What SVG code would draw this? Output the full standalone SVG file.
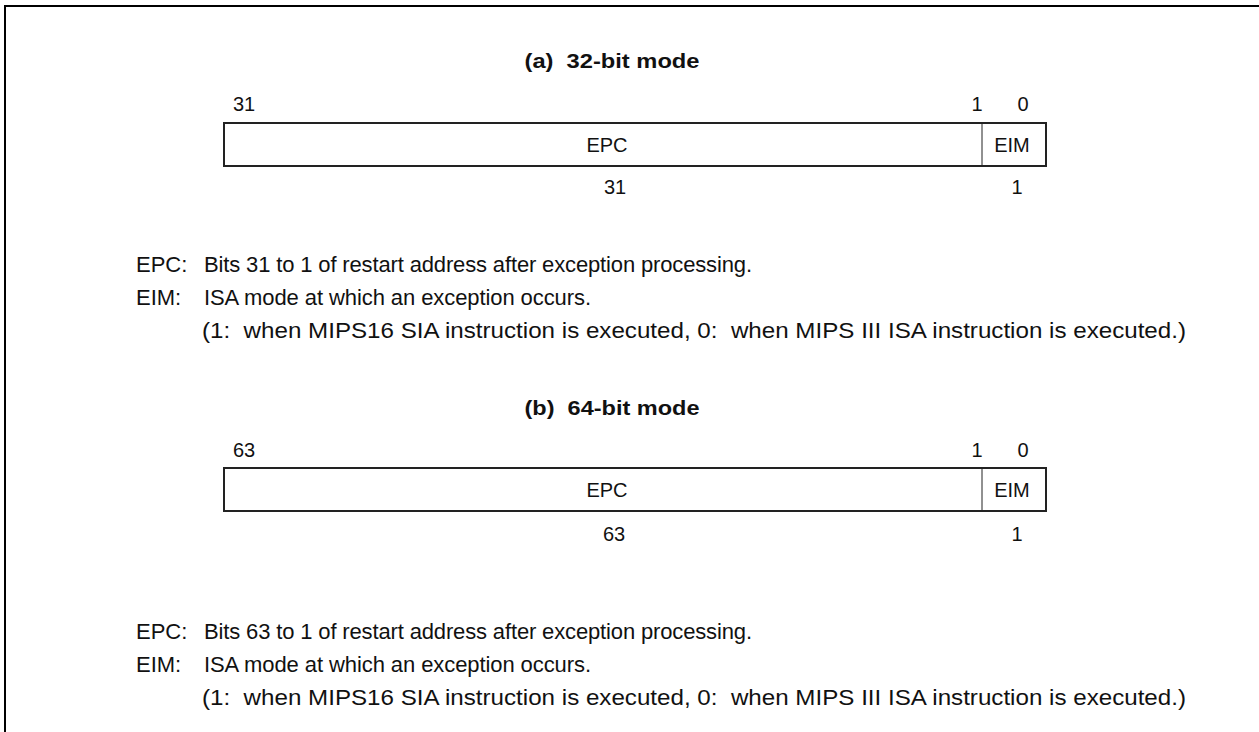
<svg xmlns="http://www.w3.org/2000/svg" width="1259" height="732" viewBox="0 0 1259 732">
<style>
text{font-family:"Liberation Sans",Arial,sans-serif;font-size:20px;fill:#111;white-space:pre}
.t{font-weight:bold;font-size:21px;text-anchor:middle}
.m{text-anchor:middle}
.b{font-size:22px}
.box{fill:none;stroke:#222;stroke-width:2}
.div{stroke:#222;stroke-width:1}
.frame{fill:none;stroke:#000;stroke-width:2}
</style>
<rect width="1259" height="732" fill="#fff"/>
<path class="frame" d="M5,732 V6 H1259"/>
<g id="reg32">
<text class="t" x="612" y="68" textLength="175" lengthAdjust="spacingAndGlyphs">(a)  32-bit mode</text>
<text x="233" y="111">31</text>
<text class="m" x="977" y="111">1</text>
<text class="m" x="1023" y="111">0</text>
<rect class="box" x="224" y="123" width="822" height="43"/>
<line class="div" x1="982" y1="123" x2="982" y2="166"/>
<text class="m" x="607" y="152">EPC</text>
<text class="m" x="1012" y="152">EIM</text>
<text class="m" x="615" y="194">31</text>
<text class="m" x="1017" y="194">1</text>
</g>
<g id="desc32">
<text class="b" x="136" y="272">EPC:</text>
<text class="b" x="204" y="272" textLength="548" lengthAdjust="spacing">Bits 31 to 1 of restart address after exception processing.</text>
<text class="b" x="136" y="305">EIM:</text>
<text class="b" x="204" y="305" textLength="387" lengthAdjust="spacing">ISA mode at which an exception occurs.</text>
<text class="b" x="202" y="338" textLength="984" lengthAdjust="spacingAndGlyphs">(1:  when MIPS16 SIA instruction is executed, 0:  when MIPS III ISA instruction is executed.)</text>
</g>
<g id="reg64">
<text class="t" x="612" y="415" textLength="175" lengthAdjust="spacingAndGlyphs">(b)  64-bit mode</text>
<text x="233" y="457">63</text>
<text class="m" x="977" y="457">1</text>
<text class="m" x="1023" y="457">0</text>
<rect class="box" x="224" y="468" width="822" height="43"/>
<line class="div" x1="982" y1="468" x2="982" y2="511"/>
<text class="m" x="607" y="497">EPC</text>
<text class="m" x="1012" y="497">EIM</text>
<text class="m" x="614" y="541">63</text>
<text class="m" x="1017" y="541">1</text>
</g>
<g id="desc64">
<text class="b" x="136" y="639">EPC:</text>
<text class="b" x="204" y="639" textLength="548" lengthAdjust="spacing">Bits 63 to 1 of restart address after exception processing.</text>
<text class="b" x="136" y="672">EIM:</text>
<text class="b" x="204" y="672" textLength="387" lengthAdjust="spacing">ISA mode at which an exception occurs.</text>
<text class="b" x="202" y="705" textLength="984" lengthAdjust="spacingAndGlyphs">(1:  when MIPS16 SIA instruction is executed, 0:  when MIPS III ISA instruction is executed.)</text>
</g>
</svg>
